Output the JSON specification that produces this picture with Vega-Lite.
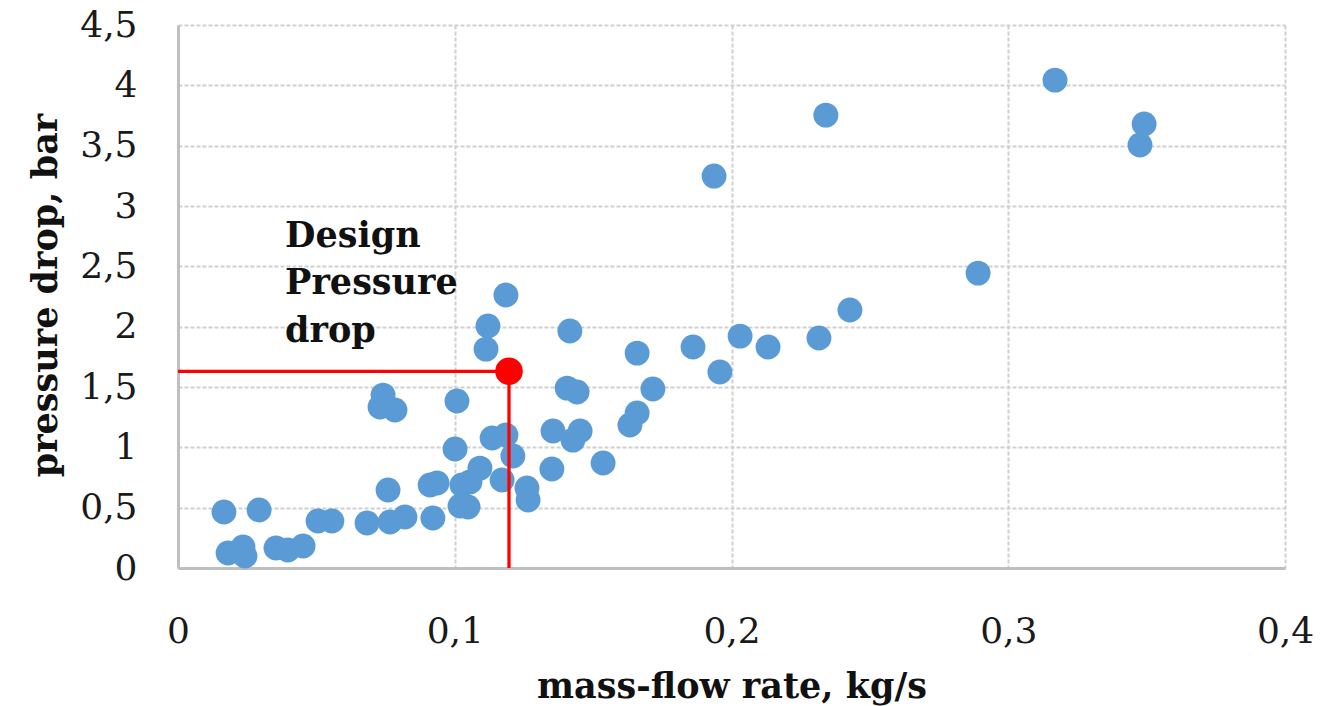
{
  "$schema": "https://vega.github.io/schema/vega-lite/v6.json",
  "autosize": {"type": "none"},
  "padding": {"left": 178, "top": 25, "right": 55, "bottom": 138},
  "width": 1107,
  "height": 543,
  "background": "white",
  "config": {
    "view": {"stroke": null},
    "font": "DejaVu Serif",
    "axis": {
      "grid": true,
      "gridColor": "#d0d0d0",
      "gridDash": [4, 2],
      "gridWidth": 2,
      "domainColor": "#bfbfbf",
      "domainWidth": 3,
      "ticks": false,
      "tickSize": 0,
      "labelFont": "DejaVu Serif",
      "labelFontSize": 36,
      "labelColor": "#1a1a1a",
      "labelFlush": false,
      "labelOverlap": false,
      "labelBound": false,
      "titleFont": "DejaVu Serif",
      "titleFontWeight": "bold",
      "titleFontSize": 35,
      "titleColor": "#111111"
    }
  },
  "datasets": {
    "points": [
      {"flow": 0.0166, "dp": 0.464}, {"flow": 0.0293, "dp": 0.481}, {"flow": 0.0181, "dp": 0.124},
      {"flow": 0.0235, "dp": 0.174}, {"flow": 0.0242, "dp": 0.099}, {"flow": 0.0354, "dp": 0.166},
      {"flow": 0.0397, "dp": 0.149}, {"flow": 0.0452, "dp": 0.182}, {"flow": 0.0506, "dp": 0.389},
      {"flow": 0.0556, "dp": 0.389}, {"flow": 0.0683, "dp": 0.373}, {"flow": 0.0759, "dp": 0.646},
      {"flow": 0.0766, "dp": 0.381}, {"flow": 0.082, "dp": 0.423}, {"flow": 0.0741, "dp": 1.433},
      {"flow": 0.073, "dp": 1.334}, {"flow": 0.0784, "dp": 1.309}, {"flow": 0.0921, "dp": 0.414},
      {"flow": 0.0911, "dp": 0.688}, {"flow": 0.0936, "dp": 0.704}, {"flow": 0.1008, "dp": 1.384},
      {"flow": 0.1001, "dp": 0.986}, {"flow": 0.1019, "dp": 0.514}, {"flow": 0.1048, "dp": 0.505},
      {"flow": 0.1026, "dp": 0.688}, {"flow": 0.1055, "dp": 0.713}, {"flow": 0.1091, "dp": 0.828},
      {"flow": 0.112, "dp": 2.005}, {"flow": 0.1113, "dp": 1.814}, {"flow": 0.1185, "dp": 2.262},
      {"flow": 0.1135, "dp": 1.077}, {"flow": 0.1185, "dp": 1.102}, {"flow": 0.1171, "dp": 0.729},
      {"flow": 0.121, "dp": 0.928}, {"flow": 0.1261, "dp": 0.663}, {"flow": 0.1265, "dp": 0.563},
      {"flow": 0.1351, "dp": 0.82}, {"flow": 0.1355, "dp": 1.135}, {"flow": 0.1416, "dp": 1.964},
      {"flow": 0.1406, "dp": 1.491}, {"flow": 0.1442, "dp": 1.458}, {"flow": 0.1427, "dp": 1.06},
      {"flow": 0.1453, "dp": 1.135}, {"flow": 0.1536, "dp": 0.87}, {"flow": 0.1633, "dp": 1.185},
      {"flow": 0.1659, "dp": 1.284}, {"flow": 0.1659, "dp": 1.781}, {"flow": 0.1716, "dp": 1.483},
      {"flow": 0.1861, "dp": 1.831}, {"flow": 0.1958, "dp": 1.624}, {"flow": 0.1937, "dp": 3.248},
      {"flow": 0.2031, "dp": 1.922}, {"flow": 0.2132, "dp": 1.831}, {"flow": 0.2341, "dp": 3.753},
      {"flow": 0.2316, "dp": 1.906}, {"flow": 0.2428, "dp": 2.138}, {"flow": 0.2891, "dp": 2.444},
      {"flow": 0.3169, "dp": 4.043}, {"flow": 0.3491, "dp": 3.679}, {"flow": 0.3476, "dp": 3.505}
    ],
    "design": [{"flow": 0.1196, "dp": 1.63, "zero": 0}],
    "labels": [
      {"flow": 0.0387, "dp": 2.66, "text": "Design"},
      {"flow": 0.0387, "dp": 2.27, "text": "Pressure"},
      {"flow": 0.0387, "dp": 1.87, "text": "drop"}
    ]
  },
  "layer": [
    {
      "data": {"name": "points"},
      "mark": {"type": "circle", "color": "#5b9bd5", "opacity": 1, "size": 620},
      "encoding": {
        "x": {
          "field": "flow", "type": "quantitative",
          "scale": {"domain": [0, 0.4], "nice": false, "zero": true},
          "axis": {
            "values": [0, 0.1, 0.2, 0.3, 0.4],
            "labelExpr": "replace(toString(datum.value), '.', ',')",
            "labelBaseline": "alphabetic",
            "labelPadding": 74,
            "title": "mass-flow rate, kg/s",
            "titleBaseline": "alphabetic",
            "titleY": 129
          }
        },
        "y": {
          "field": "dp", "type": "quantitative",
          "scale": {"domain": [0, 4.5], "nice": false},
          "axis": {
            "values": [0, 0.5, 1, 1.5, 2, 2.5, 3, 3.5, 4, 4.5],
            "labelExpr": "replace(toString(datum.value), '.', ',')",
            "labelBaseline": "middle",
            "labelPadding": 41,
            "title": "pressure drop, bar",
            "titleBaseline": "middle",
            "titleAngle": 270,
            "titleX": -133,
            "titleY": 270
          }
        }
      }
    },
    {
      "data": {"name": "design"},
      "mark": {"type": "rule", "color": "#ff0000", "strokeWidth": 3.3},
      "encoding": {
        "x": {"field": "zero", "type": "quantitative"},
        "x2": {"field": "flow"},
        "y": {"field": "dp", "type": "quantitative"}
      }
    },
    {
      "data": {"name": "design"},
      "mark": {"type": "rule", "color": "#ff0000", "strokeWidth": 3.3},
      "encoding": {
        "x": {"field": "flow", "type": "quantitative"},
        "y": {"field": "zero", "type": "quantitative"},
        "y2": {"field": "dp"}
      }
    },
    {
      "data": {"name": "design"},
      "mark": {"type": "circle", "color": "#ff0000", "opacity": 1, "size": 760},
      "encoding": {
        "x": {"field": "flow", "type": "quantitative"},
        "y": {"field": "dp", "type": "quantitative"}
      }
    },
    {
      "data": {"name": "labels"},
      "mark": {"type": "text", "align": "left", "baseline": "alphabetic", "font": "DejaVu Serif", "fontWeight": "bold", "fontSize": 35, "color": "#111111"},
      "encoding": {
        "x": {"field": "flow", "type": "quantitative"},
        "y": {"field": "dp", "type": "quantitative"},
        "text": {"field": "text"}
      }
    }
  ]
}
